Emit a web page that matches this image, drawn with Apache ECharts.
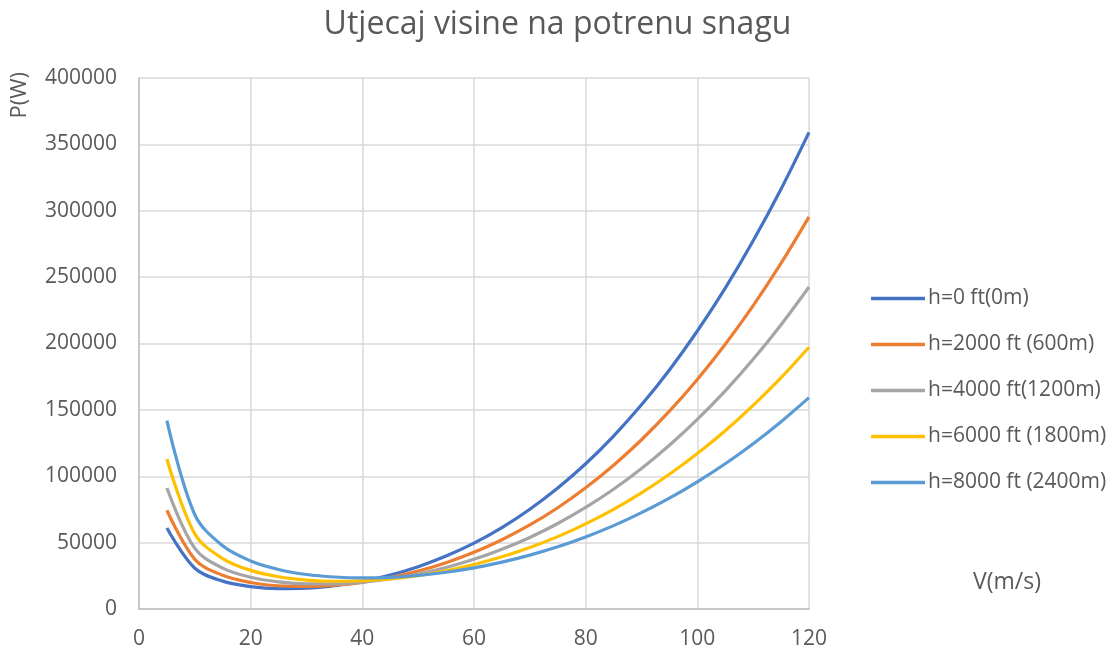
<!DOCTYPE html>
<html>
<head>
<meta charset="utf-8">
<script src="https://cdn.jsdelivr.net/npm/echarts@6/dist/echarts.min.js"></script>
<style>html,body{margin:0;padding:0;background:#fff;}#c{width:1115px;height:654px;}</style>
</head>
<body>
<div id="c"></div>
<script>
const speeds = [5,10,15,20,25,30,35,40,45,50,55,60,65,70,75,80,85,90,95,100,105,110,115,120];
const seriesNames = ['h=0 ft(0m)','h=2000 ft (600m)','h=4000 ft(1200m)','h=6000 ft (1800m)','h=8000 ft (2400m)'];
const p0ft = [61000,30700,21000,16900,15400,15700,17600,20800,25600,31900,39900,49600,61300,75100,91100,109400,130300,153800,180100,209400,241700,277400,316400,359000];
const p2000ft = [74400,37400,25400,20000,17500,17000,17900,20100,23700,28600,34900,42700,52200,63300,76300,91300,108300,127500,149000,172900,199400,228500,260500,295400];
const p4000ft = [91100,45700,30800,23900,20400,18900,18900,20200,22700,26400,31300,37400,45000,53900,64400,76500,90200,105800,123300,142800,164300,188100,214200,242600];
const p6000ft = [113000,56600,38000,29100,24300,21800,20900,21300,22700,25200,28800,33500,39300,46300,54500,64100,75100,87500,101500,117100,134300,153400,174300,197200];
const p8000ft = [141900,71000,47600,36200,29800,26000,24100,23400,23800,25300,27700,31000,35300,40600,46900,54300,62800,72600,83500,95800,109400,124500,141100,159200];
const xTicks = [0,20,40,60,80,100,120];
const yTicks = [0,50000,100000,150000,200000,250000,300000,350000,400000];

const colors = ['#4472C4','#ED7D31','#A5A5A5','#FFC000','#5B9BD5'];
const allData = [p0ft,p2000ft,p4000ft,p6000ft,p8000ft];
const FONT = "'Open Sans', 'Noto Sans', sans-serif";
const TXT = '#595959';

const chart = echarts.init(document.getElementById('c'), null, {renderer:'canvas'});
chart.setOption({
  animation:false,
  backgroundColor:'#fff',
  color:colors,
  title:{text:'Utjecaj visine na potrenu snagu',left:'center',top:4,
    textStyle:{fontFamily:FONT,fontSize:32,fontWeight:'normal',color:TXT}},
  grid:{left:139,right:306,top:78,bottom:45},
  legend:{orient:'vertical',left:866,top:283,itemWidth:54,itemHeight:14,itemGap:25,
    icon:'path://M0,6 L54,6 L54,9.5 L0,9.5 Z',
    textStyle:{fontFamily:FONT,fontSize:21,color:TXT,padding:[0,0,0,-2]},
    data:seriesNames},
  xAxis:{type:'value',min:xTicks[0],max:xTicks[xTicks.length-1],interval:20,
    axisLine:{show:true,lineStyle:{color:'#BFBFBF',width:1.5}},
    axisTick:{show:false},
    axisLabel:{fontFamily:FONT,fontSize:21,color:TXT,margin:20},
    splitLine:{show:true,lineStyle:{color:'#D9D9D9',width:1.5}}},
  yAxis:{type:'value',min:yTicks[0],max:yTicks[yTicks.length-1],interval:50000,
    axisLine:{show:true,lineStyle:{color:'#BFBFBF',width:1.5}},
    axisTick:{show:false},
    axisLabel:{fontFamily:FONT,fontSize:21,color:TXT,margin:22,formatter:v=>String(v)},
    splitLine:{show:true,lineStyle:{color:'#D9D9D9',width:1.5}}},
  graphic:[
    {type:'text',left:9,top:72,rotation:Math.PI/2,
      style:{text:'P(W)',font:'22px '+FONT,fill:TXT}},
    {type:'text',left:973,top:571,
      style:{text:'V(m/s)',font:'23px '+FONT,fill:TXT}}
  ],
  series: allData.map((d,i)=>({
    name:seriesNames[i],type:'line',smooth:0.35,symbol:'none',
    lineStyle:{width:3.2,color:colors[i]},
    data:speeds.map((v,j)=>[v,d[j]])
  }))
});
</script>
</body>
</html>
